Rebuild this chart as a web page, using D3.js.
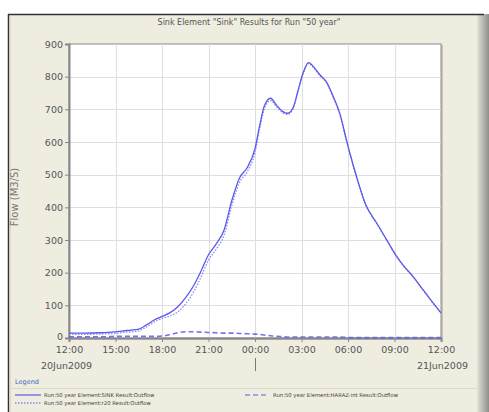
<!DOCTYPE html>
<html><head><meta charset="utf-8">
<script src="https://cdn.jsdelivr.net/npm/d3@7"></script>
<style>body{margin:0;background:#fff}svg{display:block}text{font-family:"DejaVu Sans",sans-serif}</style>
</head><body>
<svg id="c" width="489" height="412"></svg>
<script>
// ---- data ----
const title = 'Sink Element "Sink" Results for Run "50 year"';
const yLabel = "Flow (M3/S)";
const startTime = new Date(2009, 5, 20, 12, 0);
const hours = [0,1,2,2.5,3,3.5,4,4.5,5,5.5,6,6.5,7,7.5,8,8.5,9,9.5,10,10.5,11,11.5,12,12.3,12.6,13,13.4,13.8,14.1,14.45,14.8,15.1,15.45,15.85,16.2,16.6,17,17.5,17.9,18.3,18.75,19.1,19.85,20.5,21.15,21.55,22.2,22.85,23.5,24];
const sink = [15,15,16,17,19,22,24,27,40,55,66,77,95,122,157,203,255,288,330,420,490,522,580,650,710,734,712,693,688,704,762,811,843,826,805,785,745,683,606,535,463,413,352,300,249,223,188,147,107,77];
const haraz = [4,4,4,4,5,5,5,5,5,5,6,10,16,19,19,18,17,16,15,15,14,13,12,11,9,7,5,4,3,3,3,3,3,3,3,3,3,3,2,1,1,1,1,1,1,1,1,1,1,1];
const r20 = [11,11,12,13,14,17,19,22,34,49,60,67,79,103,138,185,238,272,314,405,476,509,568,640,701,727,707,689,685,701,759,808,840,823,802,782,742,680,604,534,462,412,351,299,248,222,187,146,106,76];
const yTicks = [0,100,200,300,400,500,600,700,800,900];
const xTickHours = [0,3,6,9,12,15,18,21,24];
const dateLabels = ["20Jun2009","21Jun2009"];
const legendNames = ["Run:50 year Element:SINK Result:Outflow","Run:50 year Element:HARAZ-int Result:Outflow","Run:50 year Element:r20 Result:Outflow"];

const svg = d3.select("#c");
const L = 69, R = 441, T = 44, B = 338;
const x = d3.scaleTime().domain([startTime, d3.timeHour.offset(startTime, 24)]).range([L, R]);
const y = d3.scaleLinear().domain([0, 900]).range([B, T]);
const lineCol = "#5a5ae8";

// frame
const defs = svg.append("defs");
const g1 = defs.append("linearGradient").attr("id","rg").attr("x1","0").attr("x2","1");
g1.append("stop").attr("offset","0").attr("stop-color","#e4e2d8");
g1.append("stop").attr("offset","1").attr("stop-color","#8e8e8a");
svg.append("rect").attr("x",8).attr("y",14).attr("width",474).attr("height",398).attr("fill","#efede0");
svg.append("rect").attr("x",477).attr("y",14).attr("width",12).attr("height",398).attr("fill","url(#rg)");
svg.append("line").attr("x1",8).attr("x2",484).attr("y1",14.5).attr("y2",14.5).attr("stroke","#333").attr("stroke-width",1.5);
svg.append("line").attr("x1",8.5).attr("x2",8.5).attr("y1",14).attr("y2",412).attr("stroke","#333").attr("stroke-width",1.5);
svg.append("line").attr("x1",10).attr("x2",10).attr("y1",16).attr("y2",412).attr("stroke","#d6d4c8").attr("stroke-width",1.5);

// title
svg.append("text").attr("x",249).attr("y",25).attr("text-anchor","middle").attr("font-size",8).attr("fill","#555").text(title);

// plot area
svg.append("rect").attr("x",L+1).attr("y",T+1).attr("width",R-L+1).attr("height",B-T+1).attr("fill","#c8c6bc");
svg.append("rect").attr("x",L).attr("y",T).attr("width",R-L).attr("height",B-T).attr("fill","#fff").attr("stroke","#8a8a8a");

// grid
const xTicks = xTickHours.map(h => d3.timeHour.offset(startTime, h));
svg.append("g").selectAll("line").data(yTicks.slice(1,-1)).join("line")
  .attr("x1",L).attr("x2",R).attr("y1",d=>Math.round(y(d))+0.5).attr("y2",d=>Math.round(y(d))+0.5)
  .attr("stroke","#dedede");
svg.append("g").selectAll("line").data(xTicks.slice(1,-1)).join("line")
  .attr("y1",T).attr("y2",B).attr("x1",d=>Math.round(x(d))+0.5).attr("x2",d=>Math.round(x(d))+0.5)
  .attr("stroke","#dedede");

// axes
const yAxis = d3.axisLeft(y).tickValues(yTicks).tickSize(4).tickPadding(2);
const ga = svg.append("g").attr("transform",`translate(${L},0)`).call(yAxis);
ga.select(".domain").attr("stroke","#888").attr("stroke-width",2);
ga.selectAll(".tick line").attr("stroke","#888");
ga.selectAll("text").attr("font-size",9.5).attr("fill","#555").attr("font-family","DejaVu Sans");
ga.selectAll(".tick").filter(d=>d===0).select("text").attr("dy","0.2em");

const xAxis = d3.axisBottom(x).tickValues(xTicks).tickSize(4).tickPadding(4).tickFormat(d3.timeFormat("%H:%M"));
const gx = svg.append("g").attr("transform",`translate(0,${B})`).call(xAxis);
gx.select(".domain").attr("stroke","#888").attr("stroke-width",2);
gx.selectAll(".tick line").attr("stroke","#888");
gx.selectAll("text").attr("font-size",9.5).attr("fill","#555").attr("font-family","DejaVu Sans");

// date labels
svg.append("text").attr("x",41).attr("y",369).attr("font-size",9.5).attr("fill","#555").text(dateLabels[0]);
svg.append("text").attr("x",468).attr("y",369).attr("text-anchor","end").attr("font-size",9.5).attr("fill","#555").text(dateLabels[1]);
const midX = Math.round(x(d3.timeHour.offset(startTime,12)))+0.5;
svg.append("line").attr("x1",midX).attr("x2",midX).attr("y1",358).attr("y2",371).attr("stroke","#777");

// y label
svg.append("text").attr("transform","translate(18,197) rotate(-90)").attr("text-anchor","middle")
  .attr("font-size",10).attr("fill","#777").text(yLabel);

// series
const pts = vals => hours.map((h,i)=>[startTime.getTime()+h*3600000, vals[i]]);
const line = d3.line().x(d=>x(new Date(d[0]))).y(d=>y(d[1])).curve(d3.curveMonotoneX);
const clip = defs.append("clipPath").attr("id","pc");
clip.append("rect").attr("x",L).attr("y",T).attr("width",R-L+1).attr("height",B-T+1);
const gs = svg.append("g").attr("clip-path","url(#pc)");
gs.append("path").attr("d",line(pts(haraz))).attr("fill","none").attr("stroke",lineCol).attr("stroke-width",1.6).attr("stroke-dasharray","5,3").attr("opacity",0.85);
gs.append("path").attr("d",line(pts(r20))).attr("fill","none").attr("stroke","#8a8af0").attr("stroke-width",1.3).attr("stroke-dasharray","1.5,1.5");
gs.append("path").attr("d",line(pts(sink))).attr("fill","none").attr("stroke",lineCol).attr("stroke-width",1.3);

// legend
svg.append("text").attr("x",15).attr("y",384).attr("font-size",6.5).attr("fill","#3b5fc0").text("Legend");
svg.append("line").attr("x1",10).attr("x2",477).attr("y1",388.5).attr("y2",388.5).attr("stroke","#dcdacd");
const leg = [
  {x1:15,x2:41,y:395,dash:null,name:legendNames[0],tx:44},
  {x1:245,x2:268,y:395,dash:"5,3",name:legendNames[1],tx:273},
  {x1:15,x2:41,y:403,dash:"1.5,1.5",name:legendNames[2],tx:44}
];
leg.forEach(d=>{
  svg.append("line").attr("x1",d.x1).attr("x2",d.x2).attr("y1",d.y).attr("y2",d.y)
    .attr("stroke",lineCol).attr("stroke-width",1.2).attr("stroke-dasharray",d.dash);
  svg.append("text").attr("x",d.tx).attr("y",d.y+2).attr("font-size",5.3).attr("fill","#444").text(d.name);
});
</script>
</body></html>
